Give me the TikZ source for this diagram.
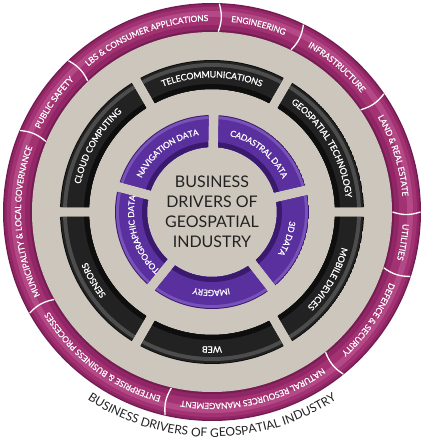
\documentclass[tikz,border=0pt]{standalone}
\usepackage{fontspec}
\setmainfont{Lato}
\newfontfamily\ringfam{Lato}[FakeBold=0.8]
\usetikzlibrary{decorations.text}
\definecolor{magEdge}{HTML}{731C51}
\definecolor{magDark}{HTML}{902666}
\definecolor{magMain}{HTML}{A23271}
\definecolor{magLight}{HTML}{B44987}
\definecolor{sand}{HTML}{CDC6BC}
\definecolor{blkEdge}{HTML}{0E0E0E}
\definecolor{blkMain}{HTML}{222222}
\definecolor{blkLight}{HTML}{4C4C4C}
\definecolor{purEdge}{HTML}{3A1A6E}
\definecolor{purMain}{HTML}{5A309E}
\definecolor{purLight}{HTML}{7852B8}
\definecolor{inktext}{HTML}{222222}
% #1 start angle, #2 end angle, #3 radius, #4 raise, #5 format, #6 text
\newcommand\arctext[6]{\path[decorate, decoration={text along path, text align=center, raise=#4, text={|#5|#6}}] (#1:#3) arc[start angle=#1, end angle=#2, radius=#3];}
\newcommand\outerfont{\color{white}\ringfam\fontsize{8.4}{9}\selectfont}
\newcommand\blackfont{\color{white}\ringfam\fontsize{8.8}{10}\selectfont}
\newcommand\purfont{\color{white}\ringfam\fontsize{8.4}{9}\selectfont}
\tikzset{sep/.style={white, line width=1.3pt}}
\begin{document}
\begin{tikzpicture}
\useasboundingbox (-212pt,-229pt) rectangle (212pt,212pt);
% outer magenta ring
\foreach \r/\c in {209/magEdge, 207.5/magDark, 205/magMain, 201/magLight, 195/magMain, 187/magDark, 182/magEdge}
  \fill[\c] (0,0) circle (\r pt);
\fill[sand] (0,0) circle (180pt);
\foreach \a in {88,64,34.5,0,-18,-51,-103,-151,157,133.5}
  \draw[sep] (\a:180.5pt) to[bend right=18] (\a:208.5pt);
% black ring
\begin{scope}
\clip foreach \s in {0,60,...,300} {({\s+asin(5/152)}:152pt) arc[start angle={\s+asin(5/152)}, end angle={\s+60-asin(5/152)}, radius=152pt] -- ({\s+60-asin(5/123)}:123pt) arc[start angle={\s+60-asin(5/123)}, end angle={\s+asin(5/123)}, radius=123pt] -- cycle};
\foreach \r/\c in {152/blkEdge, 151/blkMain, 149/blkLight, 145/blkMain, 128/blkEdge}
  \fill[\c] (0,0) circle (\r pt);
\end{scope}
% purple ring
\begin{scope}
\clip foreach \s/\e in {13/89, -52/13, -129/-52, -195/-129, 89/165} {({\s+asin(5/97)}:97pt) arc[start angle={\s+asin(5/97)}, end angle={\e-asin(5/97)}, radius=97pt] -- ({\e-asin(5/65)}:65pt) arc[start angle={\e-asin(5/65)}, end angle={\s+asin(5/65)}, radius=65pt] -- cycle};
\foreach \r/\c in {97/purEdge, 96/purLight, 93/purMain, 70/purEdge}
  \fill[\c] (0,0) circle (\r pt);
\end{scope}
% outer texts
\arctext{133.5}{88}{194pt}{-3pt}{\outerfont}{LBS {\&} CONSUMER APPLICATIONS}
\arctext{88}{64}{194pt}{-3pt}{\outerfont}{ENGINEERING}
\arctext{64}{34.5}{194pt}{-3pt}{\outerfont}{INFRASTRUCTURE}
\arctext{34.5}{0}{194pt}{-3pt}{\outerfont}{LAND {\&} REAL ESTATE}
\arctext{0}{-18}{194pt}{-3pt}{\outerfont}{UTILITIES}
\arctext{-18}{-51}{194pt}{-3pt}{\outerfont}{DEFENCE {\&} SECURITY}
\arctext{-51}{-103}{194pt}{-3pt}{\outerfont}{NATURAL RESOURCES MANAGEMENT}
\arctext{-103}{-151}{194pt}{-3pt}{\outerfont}{ENTERPRISE {\&} BUSINESS PROCESSES}
\arctext{209}{157}{194pt}{-3pt}{\outerfont}{MUNICIPALITY {\&} LOCAL GOVERNANCE}
\arctext{157}{133.5}{194pt}{-3pt}{\outerfont}{PUBLIC SAFETY}
% black texts
\arctext{116}{64}{137.5pt}{-3pt}{\blackfont}{TELECOMMUNICATIONS}
\arctext{56}{4}{137.5pt}{-3pt}{\blackfont}{GEOSPATIAL TECHNOLOGY}
\arctext{-4}{-56}{137.5pt}{-3pt}{\blackfont}{MOBILE DEVICES}
\arctext{-64}{-116}{137.5pt}{-3pt}{\blackfont}{WEB}
\arctext{-124}{-176}{137.5pt}{-3pt}{\blackfont}{SENSORS}
\arctext{176}{124}{137.5pt}{-3pt}{\blackfont}{CLOUD COMPUTING}
% purple texts
\arctext{165}{89}{81pt}{-3pt}{\purfont}{NAVIGATION DATA}
\arctext{89}{13}{81pt}{-3pt}{\purfont}{CADASTRAL DATA}
\arctext{13}{-52}{81pt}{-3pt}{\purfont}{3D DATA}
\arctext{-52}{-129}{81pt}{-3pt}{\purfont}{IMAGERY}
\arctext{231}{165}{81pt}{-3pt}{\purfont}{TOPOGRAPHIC DATA}
% centre
\node[font=\fontsize{16}{20}\selectfont, text=inktext, align=center, inner sep=0pt] (title) at (0,0) {BUSINESS\\DRIVERS OF\\GEOSPATIAL\\INDUSTRY};
% caption
\arctext{-135}{-45}{225pt}{0pt}{\color{inktext}\fontsize{12}{14}\selectfont}{BUSINESS DRIVERS OF GEOSPATIAL INDUSTRY}
\end{tikzpicture}
\end{document}
